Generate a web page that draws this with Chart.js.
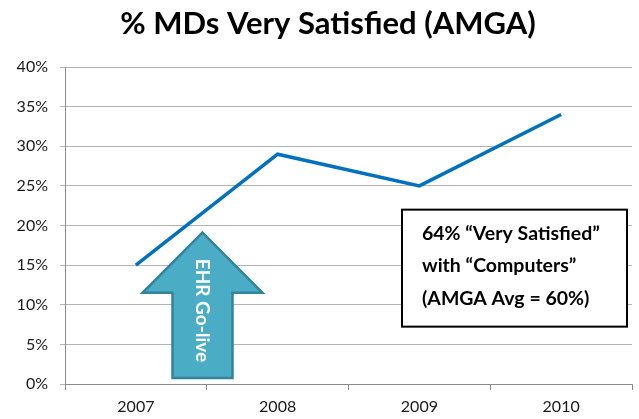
<!DOCTYPE html>
<html>
<head>
<meta charset="utf-8">
<script src="https://cdn.jsdelivr.net/npm/chart.js@4"></script>
<style>
    html, body { margin: 0; padding: 0; background: #ffffff; }
    #wrap { width: 639px; height: 419px; }
</style>
</head>
<body>
<div id="wrap"><canvas id="grafico"></canvas></div>
<script>
const anos = ["2007", "2008", "2009", "2010"];
const muitoSatisfeitos = [15, 29, 25, 34];
const tituloGrafico = "% MDs Very Satisfied (AMGA)";
const textoSeta = "EHR Go-live";
const textoCaixa = ["64% \u201cVery Satisfied\u201d", "with \u201cComputers\u201d", "(AMGA Avg = 60%)"];

const fonte = "Lato, 'Open Sans', sans-serif";

// titulo, seta "EHR Go-live" e caixa de texto desenhados por cima do grafico
const anotacoes = {
    id: "anotacoes",
    afterDatasetsDraw(chart) {
        const ctx = chart.ctx;
        const x = chart.scales.x;
        const y = chart.scales.y;

        ctx.save();
        ctx.fillStyle = "#000000";
        ctx.font = "bold 31px " + fonte;
        ctx.textAlign = "center";
        ctx.textBaseline = "middle";
        ctx.fillText(tituloGrafico, 328, 24);
        ctx.restore();

        const cx = x.getPixelForValue(0.47);
        const topo = y.getPixelForValue(19.1);
        const baseCabeca = y.getPixelForValue(11.5);
        const fundo = y.getPixelForValue(0.75);

        ctx.save();
        ctx.beginPath();
        ctx.moveTo(cx, topo);
        ctx.lineTo(cx + 60, baseCabeca);
        ctx.lineTo(cx + 30, baseCabeca);
        ctx.lineTo(cx + 30, fundo);
        ctx.lineTo(cx - 30, fundo);
        ctx.lineTo(cx - 30, baseCabeca);
        ctx.lineTo(cx - 60, baseCabeca);
        ctx.closePath();
        ctx.fillStyle = "#4BACC6";
        ctx.fill();
        ctx.lineWidth = 2.5;
        ctx.strokeStyle = "#31849B";
        ctx.stroke();

        ctx.translate(cx, (baseCabeca + fundo) / 2 - 25);
        ctx.rotate(Math.PI / 2);
        ctx.fillStyle = "#ffffff";
        ctx.font = "bold 19px " + fonte;
        ctx.textAlign = "center";
        ctx.textBaseline = "middle";
        ctx.fillText(textoSeta, 0, 0);
        ctx.restore();

        // caixa de texto
        const area = chart.chartArea;
        const bx = area.right - 230;
        const by = y.getPixelForValue(22.0);
        const bw = 225;
        const bh = 117;

        ctx.save();
        ctx.fillStyle = "#ffffff";
        ctx.fillRect(bx, by, bw, bh);
        ctx.lineWidth = 2;
        ctx.strokeStyle = "#000000";
        ctx.strokeRect(bx, by, bw, bh);
        ctx.fillStyle = "#000000";
        ctx.font = "bold 19.5px " + fonte;
        ctx.textAlign = "left";
        ctx.textBaseline = "middle";
        ctx.fillText(textoCaixa[0], bx + 20, by + 24);
        ctx.fillText(textoCaixa[1], bx + 20, by + 56);
        ctx.fillText(textoCaixa[2], bx + 20, by + 89);
        ctx.restore();
    }
};

const ctx = document.getElementById("grafico");

new Chart(ctx, {
    type: "line",
    data: {
        labels: anos,
        datasets: [{
            label: "% MDs Very Satisfied",
            data: muitoSatisfeitos,
            borderColor: "#0070C0",
            borderWidth: 3.5,
            pointRadius: 0,
            tension: 0,
            fill: false
        }]
    },
    options: {
        responsive: true,
        maintainAspectRatio: false,
        animation: false,
        devicePixelRatio: 1,
        layout: {
            padding: { left: 0, right: 7, top: 67, bottom: 0 }
        },
        plugins: {
            legend: { display: false },
            tooltip: { enabled: false },
            title: { display: false }
        },
        scales: {
            x: {
                offset: true,
                afterFit: scale => { scale.height = 35; },
                border: { color: "#8c8c8c", width: 1 },
                grid: {
                    offset: true,
                    drawOnChartArea: false,
                    drawTicks: true,
                    tickLength: 6,
                    color: "#8c8c8c"
                },
                ticks: {
                    color: "#1a1a1a",
                    padding: 7,
                    font: { family: fonte, size: 16 }
                }
            },
            y: {
                min: 0,
                max: 40,
                afterFit: scale => { scale.width = 65; },
                border: { color: "#8c8c8c", width: 1 },
                grid: {
                    color: "#b3b3b3",
                    tickLength: 5
                },
                ticks: {
                    stepSize: 5,
                    color: "#1a1a1a",
                    padding: 12,
                    font: { family: fonte, size: 16 },
                    callback: valor => valor + "%"
                }
            }
        }
    },
    plugins: [anotacoes]
});
</script>
</body>
</html>
